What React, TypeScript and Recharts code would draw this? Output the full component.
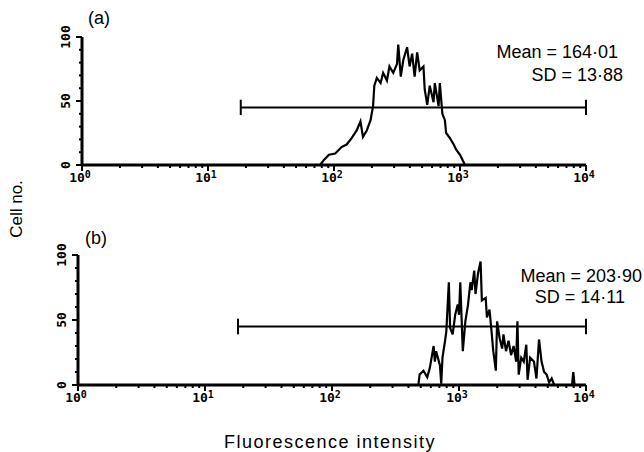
import React from 'react';
import { LineChart, Line, XAxis, YAxis, ReferenceLine } from 'recharts';

// log10 fluorescence positions and cell counts
const logA = [
  1.89, 1.92, 1.96, 2.01, 2.06, 2.1, 2.14, 2.18, 2.21, 2.23, 2.26, 2.29, 2.31, 2.32, 2.34,
  2.37, 2.39, 2.42, 2.44, 2.47, 2.5, 2.51, 2.53, 2.55, 2.58, 2.6, 2.62, 2.64, 2.66, 2.68,
  2.71, 2.72, 2.74, 2.76, 2.79, 2.8, 2.83, 2.84, 2.86, 2.88, 2.89, 2.92, 2.95, 2.97, 3.0, 3.04,
];
const countA = [
  0, 4, 8, 9, 14, 16, 21, 27, 34, 22, 27, 35, 46, 62, 68,
  64, 72, 66, 77, 72, 79, 94, 69, 82, 92, 77, 87, 69, 88, 74,
  77, 59, 47, 62, 49, 64, 46, 64, 40, 35, 25, 21, 16, 12, 8, 0,
];

const logB = [
  2.68, 2.69, 2.72, 2.75, 2.77, 2.8, 2.81, 2.82, 2.85, 2.86, 2.87, 2.89, 2.9, 2.92, 2.93,
  2.95, 2.97, 2.99, 3.0, 3.01, 3.03, 3.05, 3.07, 3.09, 3.1, 3.12, 3.13, 3.15, 3.17, 3.18,
  3.21, 3.22, 3.24, 3.25, 3.27, 3.29, 3.3, 3.32, 3.34, 3.35, 3.37, 3.39, 3.41, 3.43, 3.45,
  3.46, 3.47, 3.49, 3.51, 3.53, 3.54, 3.56, 3.59, 3.61, 3.63, 3.65, 3.67, 3.69, 3.71, 3.73,
  3.75, 3.89, 3.9, 3.91,
];
const countB = [
  0, 8, 11, 6, 13, 30, 18, 26, 15, 1, 21, 34, 41, 79, 44,
  39, 54, 62, 54, 79, 26, 49, 61, 79, 73, 88, 70, 86, 95, 65,
  67, 52, 58, 48, 26, 11, 49, 36, 28, 39, 26, 34, 23, 30, 18,
  49, 8, 21, 18, 31, 4, 21, 18, 5, 35, 18, 10, 8, 2, 5,
  0, 0, 10, 0,
];

const decades = [0, 1, 2, 3, 4];
const minorSteps = [2, 3, 4, 5, 6, 7, 8, 9];
const yTicks = [0, 10, 20, 30, 40, 50, 60, 70, 80, 90, 100];
const yLabels = [0, 50, 100];

const gateStart = 1.26;
const gateEnd = 4;
const gateLevel = 45;

const xTicks = [
  ...decades,
  ...decades.slice(0, -1).flatMap((d) => minorSteps.map((k) => d + Math.log10(k))),
].sort((a, b) => a - b);

const dataA = logA.map((x, i) => ({ x, count: countA[i] }));
const dataB = logB.map((x, i) => ({ x, count: countB[i] }));

const plotter = '"DejaVu Sans Mono", monospace';
const sans = '"Liberation Sans", Arial, sans-serif';

function LogTick({ x, y, payload }: any) {
  const v = payload.value;
  const major = decades.includes(v);
  return (
    <g>
      <line x1={x} y1={y} x2={x} y2={y + (major ? 6 : 3)} stroke="#000" strokeWidth={2} />
      {major && (
        <text x={x - 2} y={y + 17} textAnchor="middle" fontFamily={plotter} fontWeight="bold" fontSize={13} fill="#000">
          10<tspan dy={-4} fontSize={10}>{v}</tspan>
        </text>
      )}
    </g>
  );
}

function CountTick({ x, y, payload }: any) {
  const v = payload.value;
  const labelled = yLabels.includes(v);
  return (
    <g>
      <line x1={x} y1={y} x2={x - (labelled ? 6 : 3)} y2={y} stroke="#000" strokeWidth={2} />
      {labelled && (
        <text
          x={x - 12}
          y={y}
          transform={`rotate(-90, ${x - 12}, ${y})`}
          textAnchor="middle"
          fontFamily={plotter}
          fontWeight="bold"
          fontSize={13}
          fill="#000"
        >
          {v}
        </text>
      )}
    </g>
  );
}

function Histogram({ data, top, axisWidth }: { data: any[]; top: number; axisWidth: number }) {
  return (
    <LineChart width={644} height={200} data={data} margin={{ top, right: 58, bottom: 5, left: 0 }}>
      <XAxis
        dataKey="x"
        type="number"
        domain={[0, 4]}
        ticks={xTicks}
        interval={0}
        tick={<LogTick />}
        tickLine={false}
        tickSize={0}
        tickMargin={0}
        height={30}
        axisLine={{ stroke: '#000', strokeWidth: 3 }}
      />
      <YAxis
        type="number"
        domain={[0, 100]}
        ticks={yTicks}
        interval={0}
        tick={<CountTick />}
        tickLine={false}
        tickSize={0}
        tickMargin={0}
        width={axisWidth}
        axisLine={{ stroke: '#000', strokeWidth: 3 }}
      />
      <ReferenceLine
        segment={[{ x: gateStart, y: gateLevel }, { x: gateEnd, y: gateLevel }]}
        stroke="#000"
        strokeWidth={2}
        ifOverflow="visible"
      />
      <ReferenceLine
        segment={[{ x: gateStart, y: gateLevel - 6 }, { x: gateStart, y: gateLevel + 6 }]}
        stroke="#000"
        strokeWidth={2}
        ifOverflow="visible"
      />
      <ReferenceLine
        segment={[{ x: gateEnd, y: gateLevel - 6 }, { x: gateEnd, y: gateLevel + 6 }]}
        stroke="#000"
        strokeWidth={2}
        ifOverflow="visible"
      />
      <Line
        dataKey="count"
        type="linear"
        stroke="#000"
        strokeWidth={2.2}
        dot={false}
        isAnimationActive={false}
      />
    </LineChart>
  );
}

export default function App() {
  return (
    <div style={{ position: 'absolute', left: 0, top: 0, width: 644, height: 452, background: '#fff', overflow: 'hidden' }}>
      <div style={{ position: 'absolute', left: 0, top: 0 }}>
        <Histogram data={dataA} top={37} axisWidth={82} />
      </div>
      <div style={{ position: 'absolute', left: 0, top: 220 }}>
        <Histogram data={dataB} top={35} axisWidth={78} />
      </div>
      <svg width={644} height={452} style={{ position: 'absolute', left: 0, top: 0, pointerEvents: 'none' }}>
        <g fontFamily={sans} fill="#000">
          <text x={88} y={24} fontSize={18}>(a)</text>
          <text x={85} y={244} fontSize={18}>(b)</text>
          <text x={618} y={58} fontSize={18} textAnchor="end">Mean = 164·01</text>
          <text x={623} y={81} fontSize={18} textAnchor="end">SD = 13·88</text>
          <text x={642} y={282} fontSize={18} textAnchor="end">Mean = 203·90</text>
          <text x={625} y={303} fontSize={18} textAnchor="end">SD = 14·11</text>
          <text x={22} y={209} fontSize={17} textAnchor="middle" transform="rotate(-90, 22, 209)">Cell no.</text>
          <text x={330} y={448} fontSize={18} textAnchor="middle" letterSpacing={1.5}>Fluorescence intensity</text>
        </g>
      </svg>
    </div>
  );
}
